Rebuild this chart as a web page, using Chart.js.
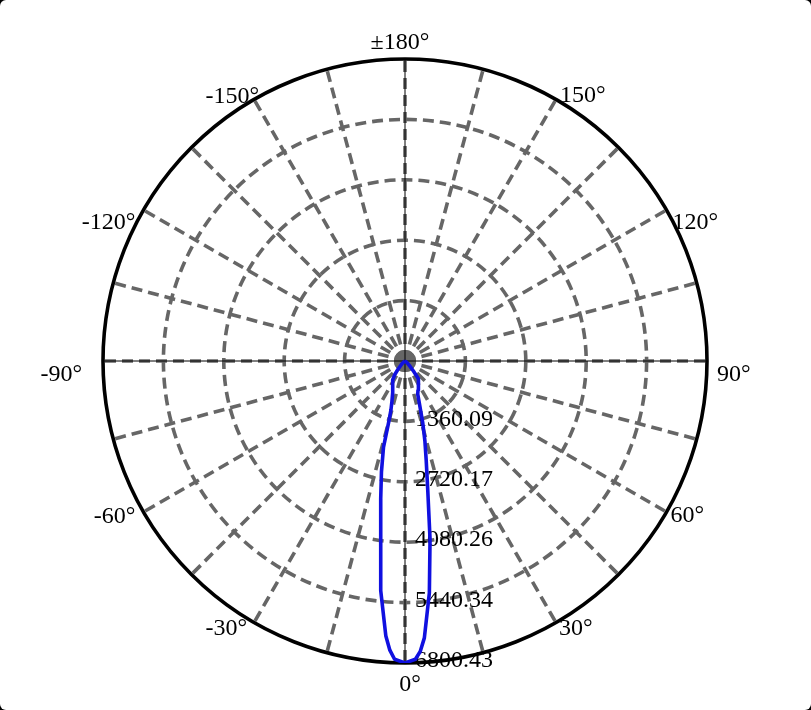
<!DOCTYPE html>
<html>
<head>
<meta charset="utf-8">
<script src="https://cdn.jsdelivr.net/npm/chart.js@4"></script>
<style>
  html, body { margin: 0; padding: 0; background: #000; }
  #wrap { width: 811px; height: 710px; background: #fff; border-radius: 6px; overflow: hidden; }
  #probe { font: 24px "Liberation Serif"; position: absolute; left: -999px; }
</style>
</head>
<body>
<span id="probe">±180° 0123456789.</span>
<div id="wrap"><canvas id="polarChart" width="811" height="710"></canvas></div>
<script>
// Angle from the downward axis (0°), positive to the right, and intensity in cd
const angles = [-90, -60, -50, -45, -40, -37, -33, -28, -24, -21,
  -18, -16, -15, -14, -12, -10, -8, -6, -4, -3, -2,
  0, 2, 3, 4, 6, 8, 10, 12, 14, 16, 18,
  21, 24, 28, 33, 37, 40, 45, 50, 60, 90];
const intensity = [0, 20, 60, 120, 250, 380, 510, 600, 680, 760,
  950, 1150, 1400, 2000, 2550, 3150, 3950, 5200, 6200, 6520, 6720,
  6800, 6720, 6550, 6250, 5250, 4050, 2950, 2300, 1850, 1450, 1100,
  800, 720, 640, 560, 500, 300, 130, 60, 20, 0];

// Rings and their labels
const ringValues = [1360.09, 2720.17, 4080.26, 5440.34, 6800.43];
const ringLabels = ["1360.09", "2720.17", "4080.26", "5440.34", "6800.43"];

// Spokes every 15 degrees, labels every 30
const spokeAngles = [0, 15, 30, 45, 60, 75, 90, 105, 120, 135, 150, 165,
  180, 195, 210, 225, 240, 255, 270, 285, 300, 315, 330, 345];
const angleTicks = [0, 30, 60, 90, 120, 150, 180, -150, -120, -90, -60, -30];
const angleLabels = ["0°", "30°", "60°", "90°", "120°", "150°", "±180°",
  "-150°", "-120°", "-90°", "-60°", "-30°"];

const maxValue = ringValues[ringValues.length - 1];

// polar -> cartesian (0° points down)
const points = angles.map((a, i) => {
  const t = a * Math.PI / 180;
  return { x: intensity[i] * Math.sin(t), y: -intensity[i] * Math.cos(t) };
});

// where each angle label sits relative to the spoke end
const labelOffsets = {
  "0": [5, 22, "center"], "180": [-5, -16, "center"],
  "30": [3, 6, "left"], "60": [4, 4, "left"], "90": [10, 14, "left"],
  "120": [6, 13, "left"], "150": [4, -4, "left"],
  "-30": [-7, 6, "right"], "-60": [-8, 5, "right"], "-90": [-21, 14, "right"],
  "-120": [-8, 13, "right"], "-150": [5, -3, "right"]
};

const polarGrid = {
  id: "polarGrid",
  beforeDatasetsDraw(chart) {
    const ctx = chart.ctx;
    const xs = chart.scales.x, ys = chart.scales.y;
    const cx = xs.getPixelForValue(0), cy = ys.getPixelForValue(0);
    const pr = v => xs.getPixelForValue(v) - cx;
    const R = pr(maxValue);

    ctx.save();
    ctx.strokeStyle = "#666";
    ctx.fillStyle = "#666";
    ctx.lineWidth = 3.6;
    ctx.setLineDash([11, 6]);
    // inner rings
    ringValues.slice(0, -1).forEach(v => {
      ctx.beginPath();
      ctx.arc(cx, cy, pr(v), 0, Math.PI * 2);
      ctx.stroke();
    });
    // spokes
    spokeAngles.forEach(a => {
      const t = a * Math.PI / 180;
      ctx.beginPath();
      ctx.moveTo(cx, cy);
      ctx.lineTo(cx + R * Math.sin(t), cy + R * Math.cos(t));
      ctx.stroke();
    });
    // where the spokes meet
    ctx.beginPath();
    ctx.arc(cx, cy, 11, 0, Math.PI * 2);
    ctx.fill();
    // thin axes
    ctx.setLineDash([]);
    ctx.strokeStyle = "#000";
    ctx.lineWidth = 1;
    ctx.beginPath();
    ctx.moveTo(cx - R, cy); ctx.lineTo(cx + R, cy);
    ctx.moveTo(cx, cy - R); ctx.lineTo(cx, cy + R);
    ctx.stroke();
    // outer circle
    ctx.lineWidth = 3.6;
    ctx.beginPath();
    ctx.arc(cx, cy, R, 0, Math.PI * 2);
    ctx.stroke();

    // labels
    ctx.fillStyle = "#000";
    ctx.font = "24px 'Liberation Serif', 'Times New Roman', serif";
    ctx.textBaseline = "middle";
    ctx.textAlign = "left";
    ringValues.forEach((v, i) => {
      ctx.fillText(ringLabels[i], cx + 10, cy + pr(v) - 2);
    });
    angleTicks.forEach((a, i) => {
      const t = a * Math.PI / 180;
      const off = labelOffsets[String(a)];
      ctx.textAlign = off[2];
      ctx.fillText(angleLabels[i], cx + R * Math.sin(t) + off[0], cy + R * Math.cos(t) + off[1]);
    });
    ctx.restore();
  }
};

function draw() {
  new Chart(document.getElementById("polarChart"), {
    type: "scatter",
    data: {
      datasets: [{
        data: points,
        showLine: true,
        borderColor: "#1010e0",
        borderWidth: 3.6,
        pointRadius: 0,
        fill: false,
        tension: 0,
        borderJoinStyle: "round"
      }]
    },
    options: {
      responsive: false,
      animation: false,
      layout: { padding: { left: 103, right: 104, top: 59, bottom: 47 } },
      plugins: { legend: { display: false }, tooltip: { enabled: false } },
      scales: {
        x: { type: "linear", min: -maxValue, max: maxValue, display: false },
        y: { type: "linear", min: -maxValue, max: maxValue, display: false }
      }
    },
    plugins: [polarGrid]
  });
}

if (document.fonts && document.fonts.load) {
  document.fonts.load("24px 'Liberation Serif'").then(draw, draw);
} else {
  draw();
}
</script>
</body>
</html>
